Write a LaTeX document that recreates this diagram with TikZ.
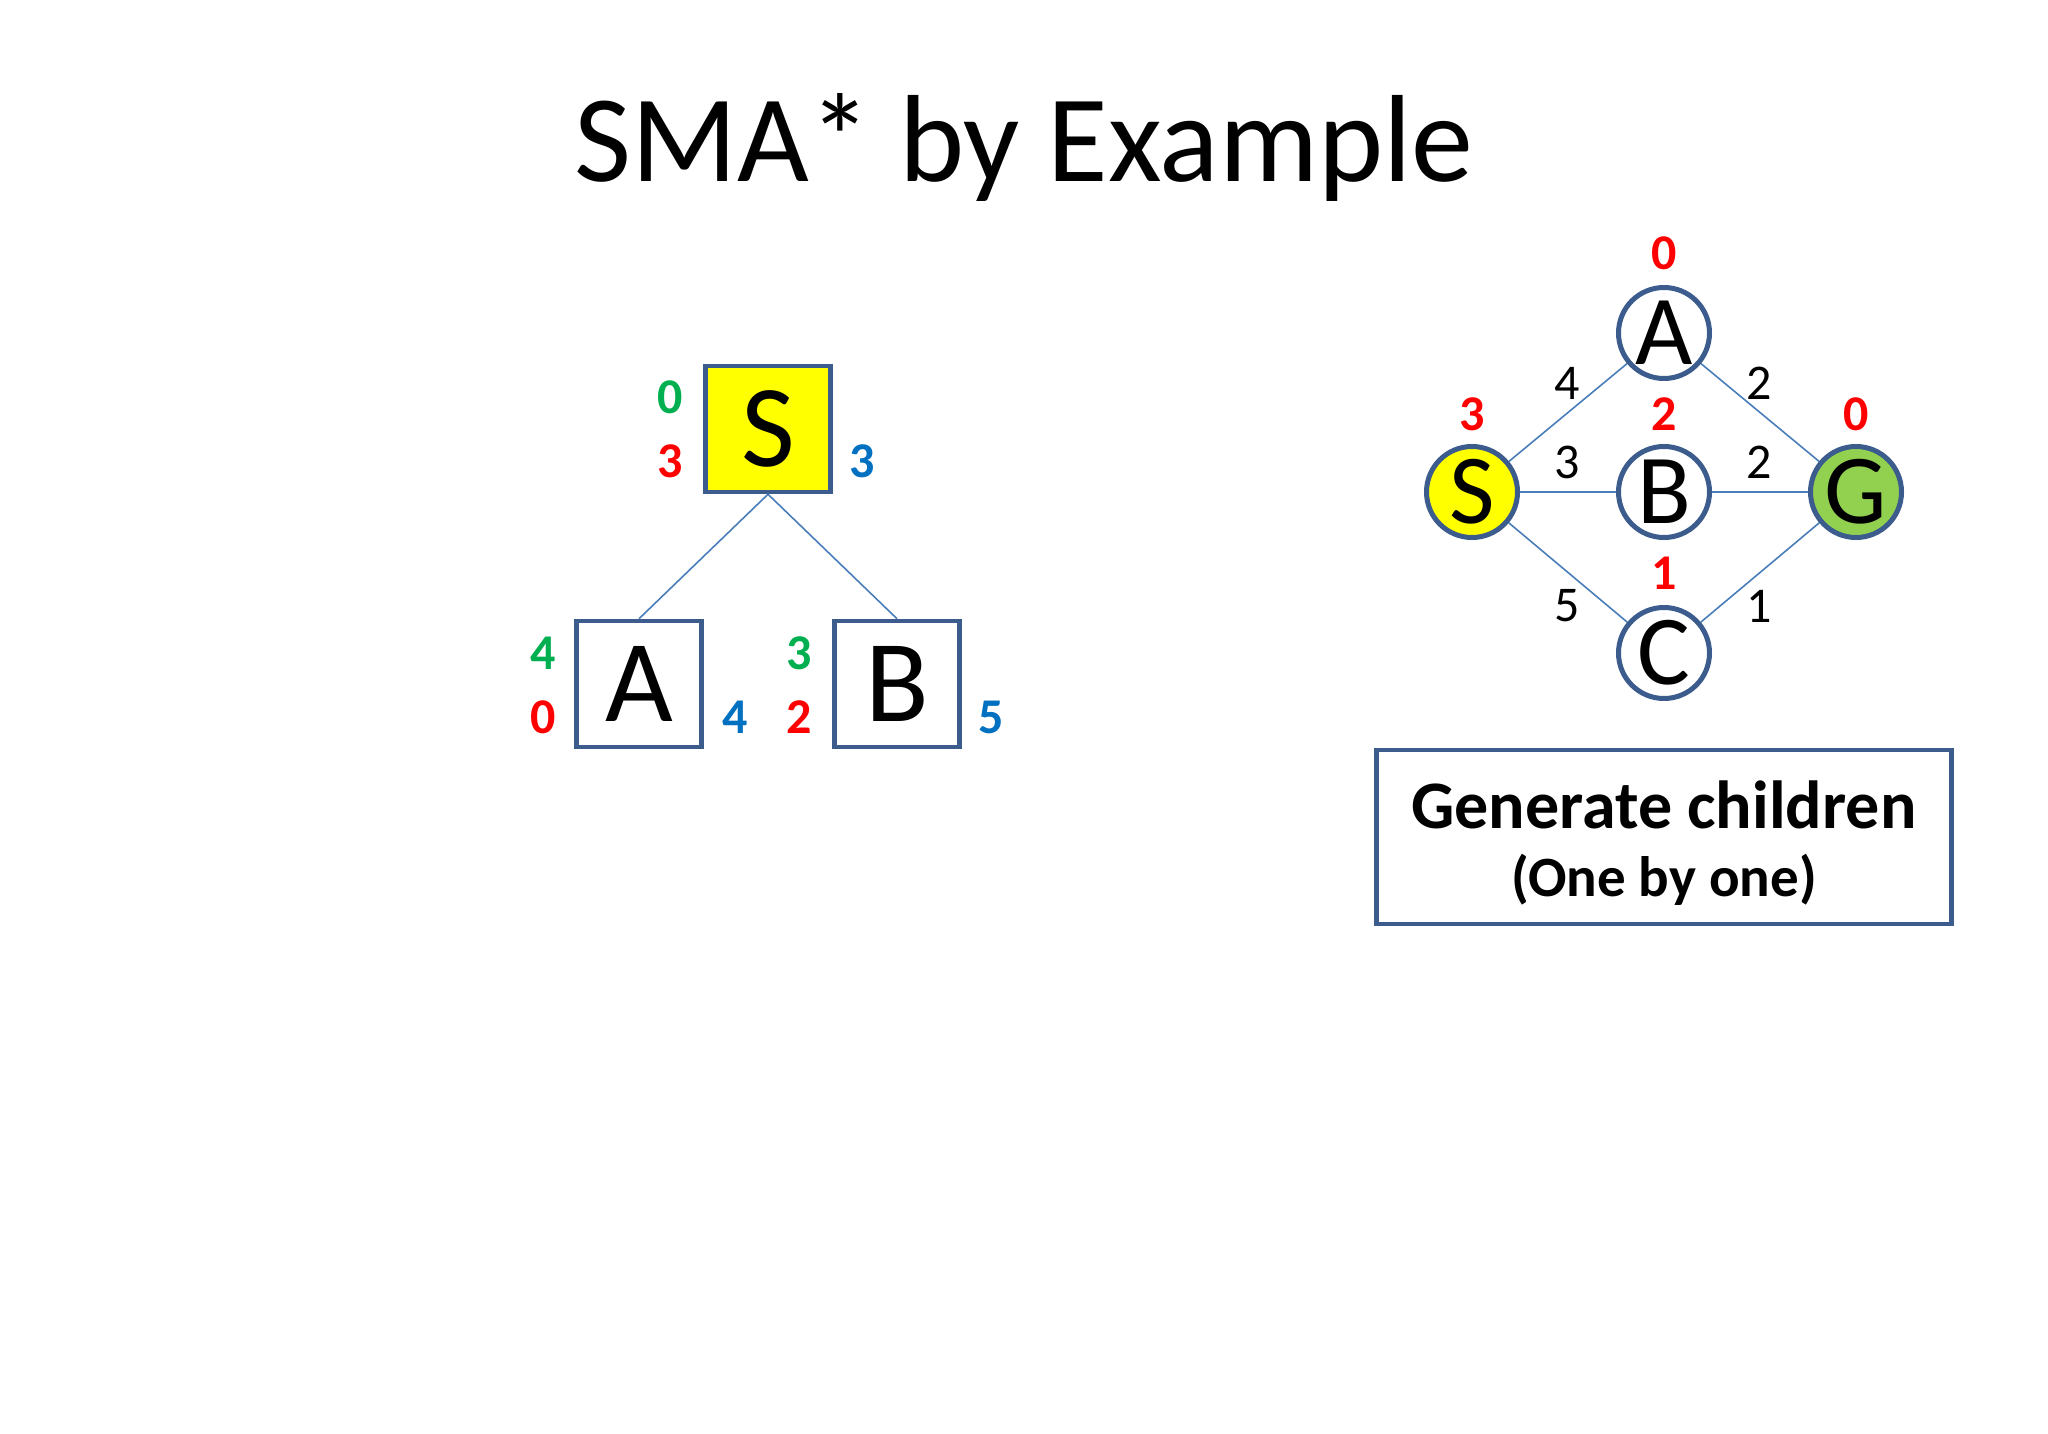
\documentclass[tikz,border=0pt]{standalone}
\usepackage{fontspec}
\setmainfont{Carlito}
\definecolor{boxline}{HTML}{3B5C8C}
\definecolor{edgeline}{HTML}{4A7EBB}
\definecolor{gtxt}{HTML}{00B050}
\definecolor{rtxt}{HTML}{FF0000}
\definecolor{btxt}{HTML}{0070C0}
\definecolor{yfill}{HTML}{FFFF00}
\definecolor{gfill}{HTML}{92D050}
\newcommand{\fsz}[1]{\fontsize{#1}{#1}\selectfont}
\tikzset{
  treebox/.style={draw=boxline, line width=4.5pt, minimum width=125pt, minimum height=126pt, inner sep=0pt, font=\fsz{117}},
  gnode/.style={circle, draw=boxline, line width=5pt, fill=white, minimum size=91pt, inner sep=0pt, font=\fsz{99}},
  link/.style={draw=edgeline, line width=1.6pt},
  num/.style={font=\bfseries\fsz{50}, inner sep=0pt},
  wlab/.style={font=\fsz{50}, inner sep=0pt},
  notebox/.style={draw=boxline, line width=4.5pt, minimum width=575pt, minimum height=174pt, inner sep=0pt},
}
\begin{document}
\begin{tikzpicture}[x=1pt,y=-1pt]
\useasboundingbox (0,0) rectangle (2048,1434);
\fill[white] (0,0) rectangle (2048,1434);
% title
\node[font=\fsz{124}, inner sep=0pt] (title) at (1024,147) {SMA* by Example};
% tree
\node[treebox, fill=yfill] (tS) at (768,429) {S};
\node[treebox, fill=white] (tA) at (639,684) {A};
\node[treebox, fill=white] (tB) at (897,684) {B};
\draw[link] (tS.south) -- (tA.north);
\draw[link] (tS.south) -- (tB.north);
\node[num, text=gtxt] (tSg) at (670,397) {0};
\node[num, text=rtxt] (tSh) at (670,461) {3};
\node[num, text=btxt] (tSf) at (862,461) {3};
\node[num, text=gtxt] (tAg) at (543,653) {4};
\node[num, text=rtxt] (tAh) at (543,717) {0};
\node[num, text=btxt] (tAf) at (735,717) {4};
\node[num, text=gtxt] (tBg) at (799,653) {3};
\node[num, text=rtxt] (tBh) at (799,717) {2};
\node[num, text=btxt] (tBf) at (991,717) {5};
% graph
\node[gnode] (gA) at (1664,333) {A};
\node[gnode] (gB) at (1664,492) {B};
\node[gnode] (gC) at (1664,653) {C};
\node[gnode, fill=yfill] (gS) at (1472,492) {S};
\node[gnode, fill=gfill] (gG) at (1856,492) {G};
\draw[link] (gS) -- (gA);
\draw[link] (gS) -- (gB);
\draw[link] (gS) -- (gC);
\draw[link] (gA) -- (gG);
\draw[link] (gB) -- (gG);
\draw[link] (gC) -- (gG);
\node[num, text=rtxt] (hA) at (1664,253) {0};
\node[num, text=rtxt] (hS) at (1472,414) {3};
\node[num, text=rtxt] (hB) at (1664,414) {2};
\node[num, text=rtxt] (hG) at (1856,414) {0};
\node[num, text=rtxt] (hC) at (1664,573) {1};
\node[wlab] (wSA) at (1567,383) {4};
\node[wlab] (wAG) at (1759,383) {2};
\node[wlab] (wSB) at (1567,462) {3};
\node[wlab] (wBG) at (1759,462) {2};
\node[wlab] (wSC) at (1567,606) {5};
\node[wlab] (wCG) at (1759,606) {1};
% note
\node[notebox] (note) at (1664,837) {};
\node[font=\bfseries\fsz{68}, inner sep=0pt] (l1) at (1664,805) {Generate children};
\node[font=\bfseries\fsz{57}, inner sep=0pt] (l2) at (1664,880) {(One by one)};
\end{tikzpicture}
\end{document}
